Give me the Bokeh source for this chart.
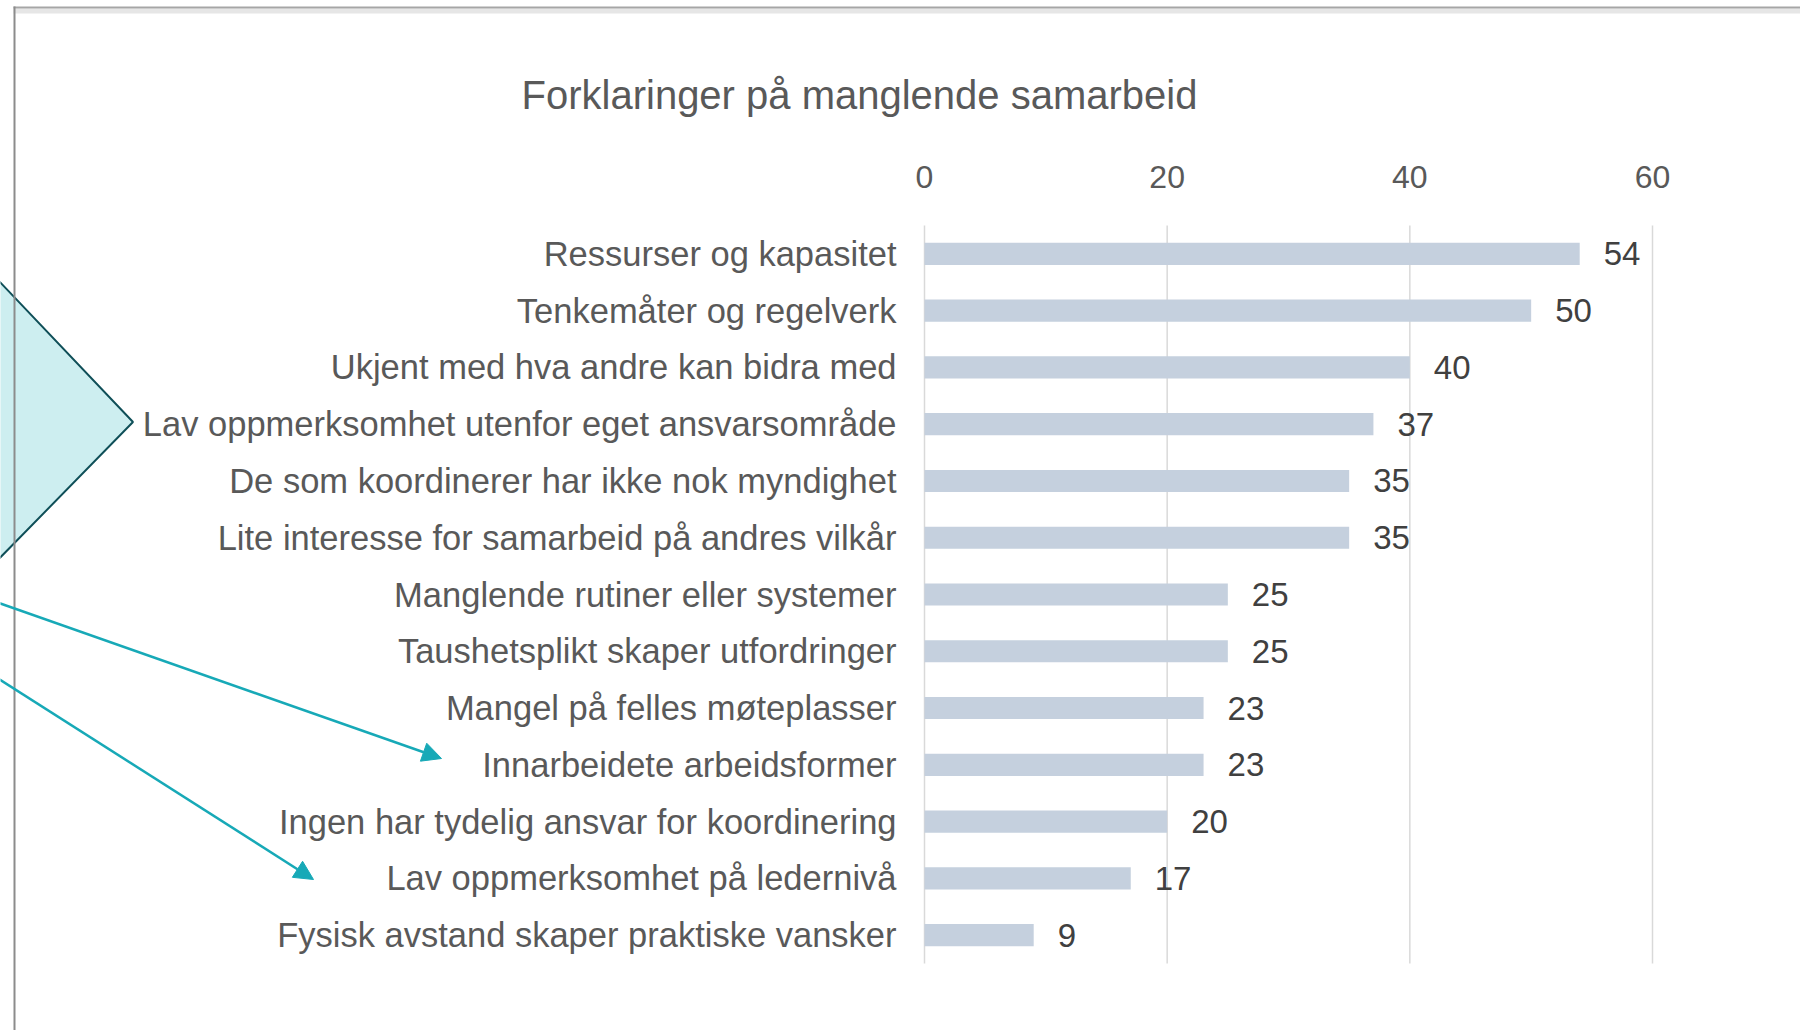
from bokeh.plotting import figure
from bokeh.models import Range1d, Arrow, NormalHead, ColumnDataSource
from bokeh.core.properties import value
from bokeh.embed import file_html
from bokeh.resources import INLINE

# ---------------- data ----------------
title_text = "Forklaringer på manglende samarbeid"
categories = [
    "Ressurser og kapasitet",
    "Tenkemåter og regelverk",
    "Ukjent med hva andre kan bidra med",
    "Lav oppmerksomhet utenfor eget ansvarsområde",
    "De som koordinerer har ikke nok myndighet",
    "Lite interesse for samarbeid på andres vilkår",
    "Manglende rutiner eller systemer",
    "Taushetsplikt skaper utfordringer",
    "Mangel på felles møteplasser",
    "Innarbeidete arbeidsformer",
    "Ingen har tydelig ansvar for koordinering",
    "Lav oppmerksomhet på ledernivå",
    "Fysisk avstand skaper praktiske vansker",
]
values = [54, 50, 40, 37, 35, 35, 25, 25, 23, 23, 20, 17, 9]
x_ticks = [0, 20, 40, 60]
tick_labels = [str(t) for t in x_ticks]

# ---------------- layout (canvas pixels) ----------------
W, H = 1800, 1030
X0_PX, X1_PX = 924, 1652          # where value 0 and value 60 sit
TOP_PX, BOT_PX = 225, 963         # top / bottom of the category bands
FONT = "Liberation Sans"
TXT = "#595959"

n = len(categories)
k = (X1_PX - X0_PX) / (x_ticks[-1] - x_ticks[0])   # px per unit
band = (BOT_PX - TOP_PX) / n                          # px per category

def dx(px):
    return x_ticks[0] + (px - X0_PX) / k

def dy(py):
    return (py - TOP_PX) / band - 0.5

p = figure(width=W, height=H, output_backend="svg", toolbar_location=None,
           x_range=Range1d(dx(0), dx(W)), y_range=Range1d(dy(H), dy(0)),
           x_axis_location=None, y_axis_location=None,
           min_border=0)
p.min_border_left = p.min_border_right = p.min_border_top = p.min_border_bottom = 0
p.outline_line_color = None
p.background_fill_color = "white"
p.border_fill_color = "white"
p.grid.visible = False

rows = list(range(n))
src = ColumnDataSource(dict(row=rows, cat=categories, val=values,
                            lab=[str(v) for v in values], zero=[0] * n))

# vertical gridlines spanning the category bands
p.segment(x0=x_ticks, x1=x_ticks, y0=[-0.5] * len(x_ticks), y1=[n - 0.5] * len(x_ticks),
          line_color="#d9d9d9", line_width=1.5)

# bars
p.hbar(y="row", right="val", left=0, height=0.39, source=src,
       fill_color="#c5d0de", line_color=None)

# value labels
p.text(x="val", y="row", text="lab", source=src, x_offset=24,
       text_baseline="middle", text_align="left", text_font=value(FONT),
       text_font_size="33px", text_color="#404040")

# category labels (right aligned, 28px left of zero)
p.text(x="zero", y="row", text="cat", source=src, x_offset=-28,
       text_baseline="middle", text_align="right", text_font=value(FONT),
       text_font_size="34.5px", text_color=TXT)

# tick labels above the chart
p.text(x=x_ticks, y=[dy(176)] * len(x_ticks), text=tick_labels,
       text_baseline="middle", text_align="center", text_font=value(FONT),
       text_font_size="32px", text_color=TXT)

# title
p.text(x=[dx(859)], y=[dy(94)], text=[title_text],
       text_baseline="middle", text_align="center", text_font=value(FONT),
       text_font_size="40px", text_color=TXT)

# ---------------- decorations ----------------
# callout shape on the left
poly_px = [(-60, 219), (132.5, 421.5), (-60, 618)]
p.patch(x=[dx(a) for a, b in poly_px], y=[dy(b) for a, b in poly_px],
        fill_color="#cdeef0", line_color="#0f4f58", line_width=2)

# arrows
TEAL = "#17a9b7"
for (x0, y0), (x1, y1) in [((-40, 589), (441, 758)), ((-40, 654), (313, 879))]:
    p.add_layout(Arrow(x_start=dx(x0), y_start=dy(y0), x_end=dx(x1), y_end=dy(y1),
                       line_color=TEAL, line_width=2.5,
                       end=NormalHead(size=19, fill_color=TEAL, line_color=TEAL)))

# slide frame (top and left edges)
def rect(x0, y0, x1, y1, color):
    p.quad(left=[dx(x0)], right=[dx(x1)], top=[dy(y0)], bottom=[dy(y1)],
           fill_color=color, line_color=None)

rect(13, 8, 1900, 13, "#e6e6e6")
rect(13, 6, 1900, 8, "#a6a6a6")
rect(13, 6, 15, 1100, "#8c8c8c")

open("out.html", "w").write(file_html(p, INLINE))
